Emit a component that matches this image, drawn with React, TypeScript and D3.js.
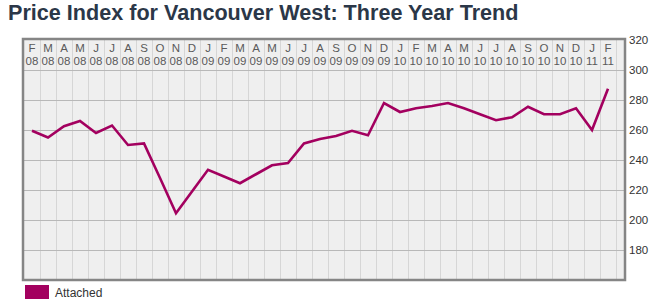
import React from "react";
import * as d3 from "d3";

const months = ["F","M","A","M","J","J","A","S","O","N","D","J","F","M","A","M","J","J","A","S","O","N","D","J","F","M","A","M","J","J","A","S","O","N","D","J","F"];
const years = ["08","08","08","08","08","08","08","08","08","08","08","09","09","09","09","09","09","09","09","09","09","09","09","10","10","10","10","10","10","10","10","10","10","10","10","11","11"];
const attached = [259.5,255,262.5,266,258,263,250,251,228,204.5,219,233.5,229,224.5,230.5,236.5,238,251,254,256,259.5,256.5,278,272,274.5,276,278,274.5,270.5,266.5,268.5,275.5,270.5,270.5,274.5,260,287.5];
const yTicks = [180,200,220,240,260,280,300,320];
const seriesName = "Attached";
const title = "Price Index for Vancouver West: Three Year Trend";

export default function App() {
  const left = 23, right = 625, top = 39, bottom = 280;
  const x = d3.scaleLinear().domain([-0.5, 37.0]).range([24, 624]);
  const y = d3.scaleLinear().domain([160, 320]).range([bottom, top + 1]);
  const line = d3.line<number>().x((_, i) => x(i)).y((d) => y(d));
  const bounds = d3.range(1, months.length + 1).map((i) => x(i - 0.5));
  const color = "#a3005f";
  return (
    <svg width={658} height={304} style={{ position: "absolute", left: 0, top: 0, fontFamily: "Arial, 'Liberation Sans', sans-serif" }}>
      <rect x={0} y={0} width={658} height={304} fill="#ffffff" />
      <text x={8} y={19.5} fontSize={21.6} fontWeight="bold" fill="#2b3748">{title}</text>
      <rect x={left} y={top} width={right - left} height={bottom - top} fill="#efefef" />
      {bounds.map((bx, i) => (
        <line key={"v" + i} x1={Math.round(bx) + 0.5} x2={Math.round(bx) + 0.5} y1={top} y2={bottom} stroke="#d6d6d6" strokeWidth={1} />
      ))}
      {yTicks.filter((t) => t < 320).map((t) => (
        <line key={"h" + t} x1={left} x2={right} y1={Math.round(y(t)) + 0.5} y2={Math.round(y(t)) + 0.5} stroke="#b8b8b8" strokeWidth={1} />
      ))}
      {months.map((m, i) => (
        <g key={"m" + i}>
          <text x={x(i)} y={52} fontSize={11.5} textAnchor="middle" fill="#5a5a5a">{m}</text>
          <text x={x(i)} y={65} fontSize={11.5} textAnchor="middle" fill="#5a5a5a">{years[i]}</text>
        </g>
      ))}
      <path d={line(attached) || ""} fill="none" stroke={color} strokeWidth={2.6} strokeLinejoin="miter" />
      <rect x={left} y={top} width={right - left} height={bottom - top} fill="none" stroke="#858585" strokeWidth={2.5} />
      {yTicks.map((t) => (
        <text key={"t" + t} x={629} y={y(t) + 4} fontSize={11.5} fill="#333">{t}</text>
      ))}
      <rect x={25} y={285} width={24} height={14} fill={color} />
      <text x={55} y={297} fontSize={12} fill="#333">{seriesName}</text>
    </svg>
  );
}
